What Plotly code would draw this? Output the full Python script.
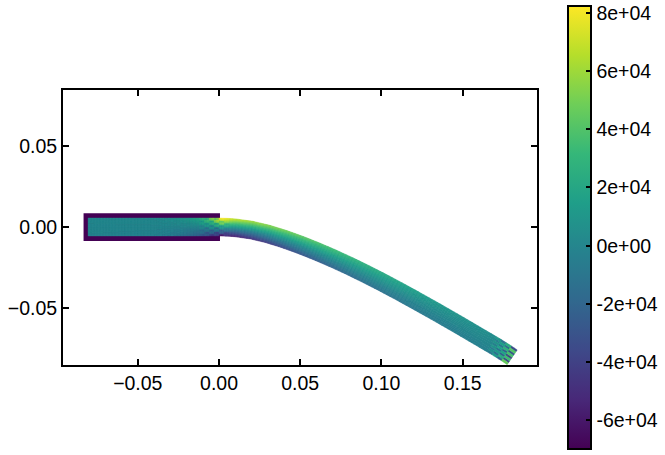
import numpy as np
import plotly.graph_objects as go
from plotly.colors import sample_colorscale

# Beam stations
station_x = [-0.0806, -0.06, -0.04, -0.03, -0.02, -0.012, -0.009, -0.006, -0.003, 0.0, 0.003, 0.006, 0.01,
             0.02, 0.03, 0.04, 0.05, 0.06, 0.07, 0.08, 0.09, 0.10, 0.11, 0.12, 0.13, 0.14, 0.15, 0.16,
             0.168, 0.171, 0.174, 0.177, 0.1805]
center_y = [0.0, 0.0, 0.0, 0.0, 0.0, 0.0, 0.0, 0.0, 0.0, 0.0, -0.0001, -0.0002, -0.0005,
            -0.0019, -0.0043, -0.0074, -0.0110, -0.0150, -0.0193, -0.0239, -0.0288, -0.0339, -0.0392,
            -0.0447, -0.0503, -0.0560, -0.0618, -0.0677, -0.0724, -0.0742, -0.0761, -0.0780, -0.0804]
stress_top = [1000, 1500, 2000, 5000, 12000, 22000, 30000, 40000, 52000, 74000, 78000, 74000, 68000,
              60000, 54000, 49000, 44000, 39000, 35000, 30000, 26000, 22500, 19000, 15500, 12500,
              10000, 8000, 6000, 4500, 3500, 2500, 1500, 0]
stress_bottom = [-1000, -1500, -2000, -5000, -12000, -22000, -30000, -38000, -46000, -58000, -62000, -60000,
                 -60000, -52000, -45000, -38000, -32000, -27000, -23000, -19000, -16000, -14000, -12000,
                 -10000, -8500, -7000, -5500, -4000, -3000, -2500, -2000, -1000, 0]
half_thickness = 0.0055

# Mesh-scale scatter (top to bottom through the thickness, per column)
root_first_station = 5
root_speckle = [
    [3000, -4000, 5000, -3000, 4000, -5000, 3000, -2000],
    [-6000, 7000, -5000, 6000, -7000, 5000, -6000, 4000],
    [8000, -9000, 7000, -8000, 9000, -7000, 6000, -5000],
    [-10000, 12000, -9000, 10000, -11000, 9000, -8000, 7000],
    [6000, -8000, 11000, -7000, 6000, -9000, 8000, -8000],
    [3000, 4000, -5000, 4000, -3000, 4000, -5000, 4000],
]
tip_first_station = 28
tip_speckle = [
    [6000, -7000, 5000, -6000, 7000, -5000, 6000, -7000],
    [-14000, 12000, -11000, 14000, -12000, 11000, -14000, 12000],
    [22000, -20000, 25000, -24000, 18000, -22000, 24000, -20000],
    [-34000, 40000, -30000, 36000, -40000, 34000, -36000, 46000],
]

# Dark frame of the fixed block
frame_x = [-0.0834, 0.0006, 0.0006, -0.0834, -0.0834]
frame_y = [0.0085, 0.0085, -0.0086, -0.0086, 0.0085]

x_tick_vals = [-0.05, 0.0, 0.05, 0.10, 0.15]
x_tick_text = ["\u22120.05", "0.00", "0.05", "0.10", "0.15"]
y_tick_vals = [-0.05, 0.0, 0.05]
y_tick_text = ["\u22120.05", "0.00", "0.05"]
cbar_vals = [-60000, -40000, -20000, 0, 20000, 40000, 60000, 80000]
cbar_text = ["-6e+04", "-4e+04", "-2e+04", "0e+00", "2e+04", "4e+04", "6e+04", "8e+04"]
stress_min, stress_max = -69700, 82400

FONT = "Liberation Sans"
N_LAYERS = 8
SUB_LAYERS = 3
N_BINS = 128
MAX_STEP = 0.002
W, H = 665, 455
PLOT_L, PLOT_R, PLOT_T, PLOT_B = 63, 537, 90, 365
CB_L, CB_R, CB_T, CB_B = 567.7, 591, 5.7, 449

sx = np.array(station_x)
cy = np.array(center_y)
top = np.array(stress_top, float)
bot = np.array(stress_bottom, float)
slope = np.gradient(cy, sx)
nx = -slope / np.hypot(1, slope)
ny = 1 / np.hypot(1, slope)

bins = [{"x": [], "y": []} for _ in range(N_BINS)]


def add_cell(xa, ya, xb, yb, xc, yc, xd, yd, value):
    t = (value - stress_min) / (stress_max - stress_min)
    k = int(np.clip(t, 0, 0.9999) * N_BINS)
    bins[k]["x"] += [xa, xb, xc, xd, xa, None]
    bins[k]["y"] += [ya, yb, yc, yd, ya, None]


etas = np.linspace(1, -1, N_LAYERS * SUB_LAYERS + 1)
for i in range(len(sx) - 1):
    n_sub = max(1, int(np.ceil((sx[i + 1] - sx[i]) / MAX_STEP)))
    speck = np.zeros(N_LAYERS)
    if root_first_station <= i < root_first_station + len(root_speckle):
        speck = np.array(root_speckle[i - root_first_station], float)
    if tip_first_station <= i < tip_first_station + len(tip_speckle):
        speck = np.array(tip_speckle[i - tip_first_station], float)
    for s in range(n_sub):
        f0, f1 = s / n_sub, (s + 1) / n_sub
        x0 = sx[i] + f0 * (sx[i + 1] - sx[i])
        x1 = sx[i] + f1 * (sx[i + 1] - sx[i])
        y0 = cy[i] + f0 * (cy[i + 1] - cy[i])
        y1 = cy[i] + f1 * (cy[i + 1] - cy[i])
        nx0 = nx[i] + f0 * (nx[i + 1] - nx[i])
        nx1 = nx[i] + f1 * (nx[i + 1] - nx[i])
        ny0 = ny[i] + f0 * (ny[i + 1] - ny[i])
        ny1 = ny[i] + f1 * (ny[i + 1] - ny[i])
        fm = (f0 + f1) / 2
        tm = top[i] + fm * (top[i + 1] - top[i])
        bm = bot[i] + fm * (bot[i + 1] - bot[i])
        for j in range(N_LAYERS * SUB_LAYERS):
            e0, e1 = etas[j], etas[j + 1]
            em = (e0 + e1) / 2
            val = bm + (em + 1) / 2 * (tm - bm) + speck[j // SUB_LAYERS]
            add_cell(x0 + e0 * half_thickness * nx0, y0 + e0 * half_thickness * ny0,
                     x1 + e0 * half_thickness * nx1, y1 + e0 * half_thickness * ny1,
                     x1 + e1 * half_thickness * nx1, y1 + e1 * half_thickness * ny1,
                     x0 + e1 * half_thickness * nx0, y0 + e1 * half_thickness * ny0, val)

fig = go.Figure()
frame_color = sample_colorscale("Viridis", [0.0])[0]
fig.add_trace(go.Scatter(x=frame_x, y=frame_y, mode="lines", fill="toself", fillcolor=frame_color,
                         line=dict(color=frame_color, width=0), hoverinfo="skip", showlegend=False))
for k, b in enumerate(bins):
    if not b["x"]:
        continue
    color = sample_colorscale("Viridis", [(k + 0.5) / N_BINS])[0]
    fig.add_trace(go.Scatter(x=b["x"], y=b["y"], mode="lines", fill="toself", fillcolor=color,
                             line=dict(color=color, width=0.5, simplify=False),
                             hoverinfo="skip", showlegend=False))

plot_w, plot_h = PLOT_R - PLOT_L, PLOT_B - PLOT_T
fig.add_trace(go.Scatter(
    x=[station_x[0]], y=[center_y[0]], mode="markers", hoverinfo="skip", showlegend=False,
    marker=dict(size=1, opacity=0, color=[0], colorscale="Viridis", cmin=stress_min, cmax=stress_max,
                showscale=True,
                colorbar=dict(x=(CB_L - PLOT_L) / plot_w, xanchor="left",
                              y=1 + (PLOT_T - CB_T) / plot_h, yanchor="top", xpad=0, ypad=0,
                              thicknessmode="pixels", thickness=CB_R - CB_L, lenmode="pixels", len=CB_B - CB_T,
                              outlinewidth=2, outlinecolor="black", borderwidth=0,
                              ticks="inside", ticklen=6, tickwidth=1.5, tickcolor="black",
                              tickmode="array", tickvals=cbar_vals, ticktext=cbar_text,
                              tickfont=dict(family=FONT, size=19.5, color="black")))))

axis_style = dict(showgrid=False, zeroline=False, showline=True, linecolor="black", linewidth=2,
                  mirror="ticks", ticks="inside", ticklen=6, tickwidth=1.5, tickcolor="black",
                  automargin=False,
                  tickfont=dict(family=FONT, size=19.5, color="black"), tickmode="array")
fig.update_layout(
    width=W, height=H, autosize=False, paper_bgcolor="white", plot_bgcolor="white",
    margin=dict(l=PLOT_L, r=W - PLOT_R, t=PLOT_T, b=H - PLOT_B, autoexpand=False), showlegend=False,
    xaxis=dict(range=[-0.09606, 0.19581], tickvals=x_tick_vals, ticktext=x_tick_text, **axis_style),
    yaxis=dict(range=[-0.08519, 0.08457], tickvals=y_tick_vals, ticktext=y_tick_text, **axis_style),
)
fig.write_html("out.html", config=dict(displayModeBar=False), post_script="document.body.style.margin='0';")
